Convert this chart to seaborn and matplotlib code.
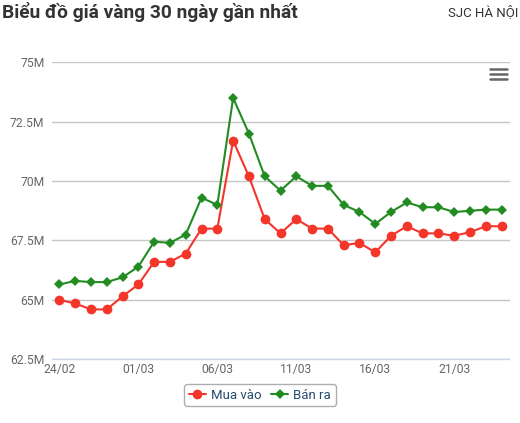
import matplotlib
matplotlib.use("Agg")
import matplotlib.pyplot as plt
from matplotlib.lines import Line2D
from matplotlib.ticker import FixedLocator, FuncFormatter
import numpy as np
import pandas as pd
import seaborn as sns

# 29 trading days shown on a category axis
dates = (
    [f"{d:02d}/02" for d in range(24, 29)]
    + [f"{d:02d}/03" for d in range(1, 25)]
)

# prices in millions VND
mua_vao = [
    65.0, 64.85, 64.6, 64.6, 65.15, 65.65, 66.6, 66.6, 66.95, 68.0,
    68.0, 71.7, 70.2, 68.4, 67.8, 68.4, 68.0, 68.0, 67.3, 67.4,
    67.0, 67.7, 68.1, 67.8, 67.8, 67.7, 67.85, 68.1, 68.1,
]
ban_ra = [
    65.65, 65.8, 65.75, 65.75, 65.95, 66.4, 67.45, 67.4, 67.75, 69.3,
    69.0, 73.5, 72.0, 70.2, 69.6, 70.2, 69.8, 69.8, 69.0, 68.7,
    68.2, 68.7, 69.1, 68.9, 68.9, 68.7, 68.75, 68.8, 68.8,
]
series_names = ["Mua vào", "Bán ra"]
y_ticks = [62.5, 65, 67.5, 70, 72.5, 75]
label_step = 5

df = pd.DataFrame({
    "idx": list(range(len(dates))) * 2,
    "price": mua_vao + ban_ra,
    "series": [series_names[0]] * len(dates) + [series_names[1]] * len(dates),
})

sns.set_theme(style="white")
plt.rcParams["font.family"] = ["Roboto", "DejaVu Sans"]

W, H = 520, 423
fig = plt.figure(figsize=(W / 100, H / 100), dpi=100)
left, right, top, bottom = 51.5, 509.5, 62.3, 359.3
ax = fig.add_axes([left / W, 1 - bottom / H, (right - left) / W, (bottom - top) / H])

red, green = "#f4352a", "#228b22"
sns.lineplot(
    data=df, x="idx", y="price", hue="series", style="series",
    palette={series_names[0]: red, series_names[1]: green},
    markers={series_names[0]: "o", series_names[1]: "D"},
    dashes=False, linewidth=1.5, markeredgewidth=0, ax=ax, legend=False,
)
for line, ms in zip(ax.lines, [7.0, 5.0]):
    line.set_markersize(ms)

n = len(dates)
ax.set_xlim(-0.5, n - 0.5)
ax.set_ylim(y_ticks[0], y_ticks[-1])
ax.set_xlabel("")
ax.set_ylabel("")

# category boundaries as tick marks, labels every 5th point
ax.xaxis.set_major_locator(FixedLocator(np.arange(-0.5, n, 1.0)))
ax.xaxis.set_major_formatter(FuncFormatter(lambda v, p: ""))
ax.xaxis.set_minor_locator(FixedLocator(list(range(0, n, label_step))))
ax.set_xticklabels([dates[i] for i in range(0, n, label_step)], minor=True)
ax.tick_params(axis="x", which="major", length=5, width=1, color="#ccd6eb", direction="out")
ax.tick_params(axis="x", which="minor", length=0, pad=3, labelsize=8.7, labelcolor="#666666")

ax.set_yticks(y_ticks)
ax.yaxis.set_major_formatter(FuncFormatter(lambda v, p: f"{v:g}M"))
ax.tick_params(axis="y", length=0, pad=5, labelsize=8.7, labelcolor="#666666")

ax.grid(axis="y", color="#c6c6c6", linewidth=1)
ax.set_axisbelow(True)
for side in ["left", "right", "top"]:
    ax.spines[side].set_visible(False)
ax.spines["bottom"].set_color("#ccd6eb")
ax.spines["bottom"].set_linewidth(1)

handles = [
    Line2D([], [], color=red, marker="o", markersize=7.0, markeredgewidth=0, linewidth=1.5),
    Line2D([], [], color=green, marker="D", markersize=5.0, markeredgewidth=0, linewidth=1.5),
]
leg = fig.legend(
    handles, series_names, loc="center", bbox_to_anchor=(260 / W, 1 - 395 / H),
    ncol=2, frameon=True, fancybox=True, fontsize=9.5, handlelength=1.3,
    handletextpad=0.4, columnspacing=0.7, borderpad=0.35,
)
leg.get_frame().set_edgecolor("#999999")
leg.get_frame().set_linewidth(1)
for t in leg.get_texts():
    t.set_color("#274b6d")

fig.text(2 / W, 1 - 17.5 / H, "Biểu đồ giá vàng 30 ngày gần nhất",
         fontsize=13.8, fontweight="bold", color="#333333", ha="left", va="baseline")
fig.text(518 / W, 1 - 16 / H, "SJC HÀ NỘI", fontsize=9.5, color="#333333",
         ha="right", va="baseline")

# export menu icon
for yy in [69, 74.3, 79.5]:
    fig.add_artist(Line2D([490 / W, 507 / W], [1 - yy / H, 1 - yy / H],
                          transform=fig.transFigure, color="#666666", linewidth=1.8))

fig.savefig("out.png", dpi=100)
